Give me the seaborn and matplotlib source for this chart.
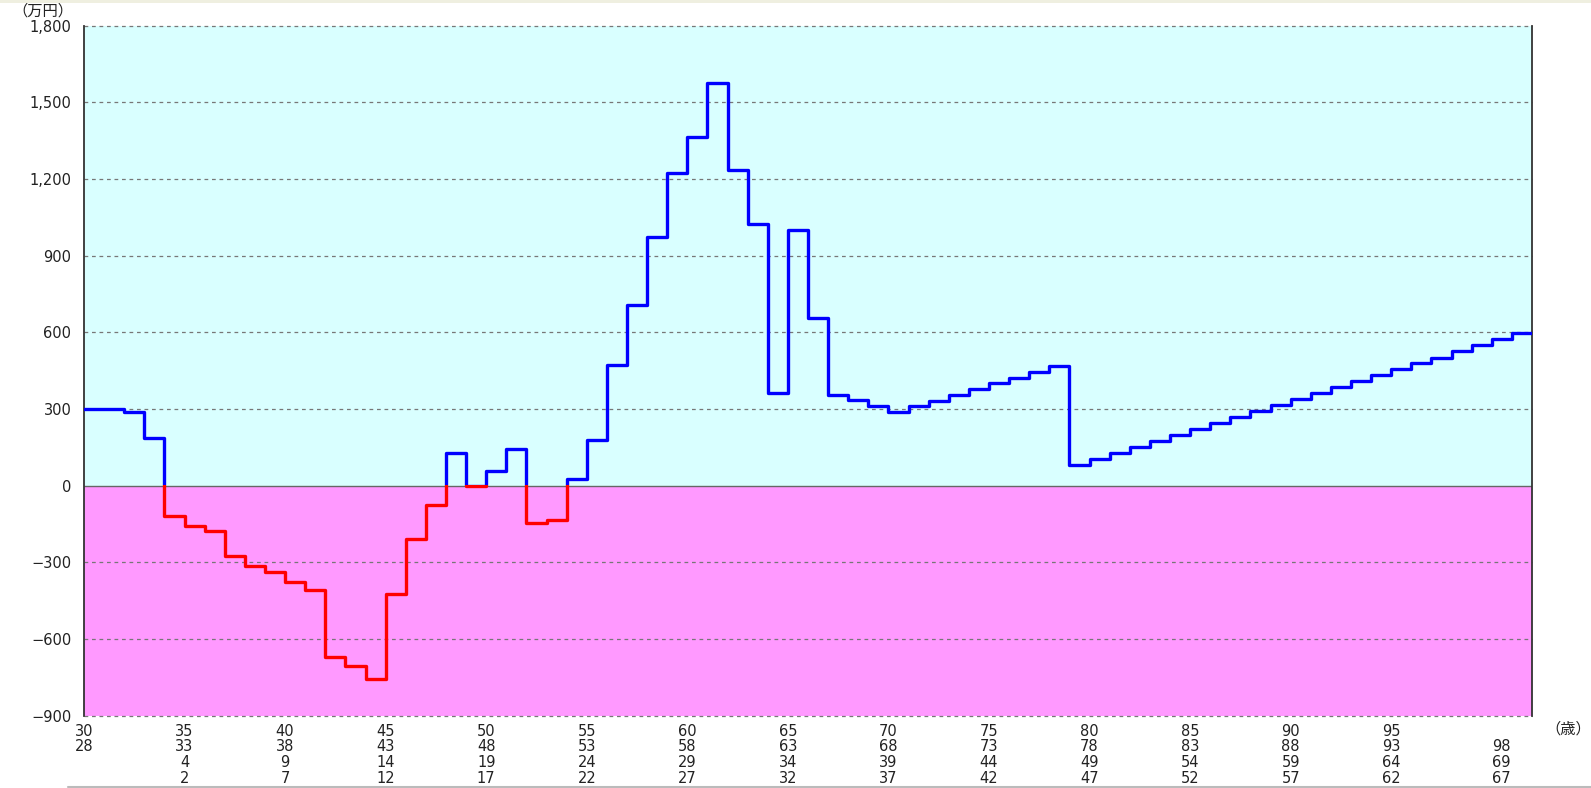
import pandas as pd
import matplotlib.pyplot as plt
import seaborn as sns
from matplotlib.patches import Rectangle
from matplotlib.lines import Line2D

# ----------------------------------------------------------
# Data (cash balance by age, 万円)
# ----------------------------------------------------------

ages = list(range(30, 102))
balance = [300, 300, 289, 185, -119, -159, -179, -276, -313, -340,
           -376, -407, -671, -707, -759, -426, -211, -78, 128, -2,
           57, 143, -148, -136, 24, 177, 472, 706, 972, 1225,
           1363, 1575, 1234, 1024, 361, 1000, 656, 354, 335, 311,
           288, 310, 331, 354, 377, 400, 420, 444, 469, 79,
           103, 126, 150, 173, 198, 221, 245, 268, 292, 314,
           339, 361, 386, 409, 431, 455, 478, 501, 527, 550,
           574, 597]

y_ticks = [1800, 1500, 1200, 900, 600, 300, 0, -300, -600, -900]

tick_ages = [30, 35, 40, 45, 50, 55, 60, 65, 70, 75, 80, 85, 90, 95, 100]
row_self = ["30", "35", "40", "45", "50", "55", "60", "65", "70", "75",
            "80", "85", "90", "95", ""]
row_spouse = ["28", "33", "38", "43", "48", "53", "58", "63", "68", "73",
              "78", "83", "88", "93", "98"]
row_child1 = ["", "4", "9", "14", "19", "24", "29", "34", "39", "44",
              "49", "54", "59", "64", "69"]
row_child2 = ["", "2", "7", "12", "17", "22", "27", "32", "37", "42",
              "47", "52", "57", "62", "67"]

# extend the last step to the right edge
df = pd.DataFrame({"age": ages + [ages[-1] + 1],
                   "balance": balance + [balance[-1]]})

# ----------------------------------------------------------
# Style
# ----------------------------------------------------------

sns.set_style("white")
plt.rcParams["font.family"] = ["DejaVu Sans", "Noto Sans CJK JP"]
plt.rcParams["axes.unicode_minus"] = True
cjk = ["Noto Sans CJK JP", "DejaVu Sans"]

fig = plt.figure(figsize=(15.91, 7.88), dpi=100)
ax = fig.add_axes([84 / 1591, 1 - 715.5 / 788,
                   (1532 - 84) / 1591, (715.5 - 25.7) / 788])

x0, x1 = ages[0], ages[-1] + 1
ax.set_xlim(x0, x1)
ax.set_ylim(min(y_ticks), max(y_ticks))

# background bands
ax.axhspan(0, max(y_ticks), color="#D9FFFF", zorder=0, lw=0)
ax.axhspan(min(y_ticks), 0, color="#FF99FF", zorder=0, lw=0)

# grid lines
for v in y_ticks:
    if v == 0:
        ax.axhline(v, color="#666666", lw=1.0, zorder=1)
    else:
        ax.axhline(v, color="#777777", lw=0.9, ls=(0, (3, 3)),
                   zorder=1, clip_on=False)

# ----------------------------------------------------------
# Step line: red below zero, blue above
# ----------------------------------------------------------

sns.lineplot(data=df, x="age", y="balance", drawstyle="steps-post",
             color="#FF0000", lw=2.4, ax=ax, zorder=3)
red = ax.lines[-1]
red.set_clip_path(Rectangle((x0, min(y_ticks)), x1 - x0, -min(y_ticks) + 3,
                            transform=ax.transData))

sns.lineplot(data=df, x="age", y="balance", drawstyle="steps-post",
             color="#0000FF", lw=2.4, ax=ax, zorder=4)
blue = ax.lines[-1]
blue.set_clip_path(Rectangle((x0, 3), x1 - x0, max(y_ticks),
                             transform=ax.transData))

# ----------------------------------------------------------
# Axes, ticks
# ----------------------------------------------------------

ax.set_yticks(y_ticks)
ax.set_yticklabels([f"{v:,}".replace("-", "\u2212") for v in y_ticks])

labels = []
for a, b, c, d in zip(row_self, row_spouse, row_child1, row_child2):
    labels.append("\n".join(t if t else " " for t in (a, b, c, d)))
ax.set_xticks(tick_ages)
ax.set_xticklabels(labels, linespacing=1.05)
ax.get_xticklabels()[-1].set_horizontalalignment("left")

ax.tick_params(axis="both", length=0, labelsize=10.5, labelcolor="#222222")
ax.tick_params(axis="y", pad=9)
ax.tick_params(axis="x", pad=6)
ax.set_xlabel("")
ax.set_ylabel("")

for side in ["top", "bottom"]:
    ax.spines[side].set_visible(False)
for side in ["left", "right"]:
    ax.spines[side].set_color("#333333")
    ax.spines[side].set_linewidth(1.3)

fig.text(12 / 1591, 1 - 11 / 788, "（万円）", fontsize=11, family=cjk,
         color="#222222", va="center", ha="left")
fig.text(1545 / 1591, 1 - 729 / 788, "（歳）", fontsize=11, family=cjk,
         color="#222222", va="center", ha="left")

# page decorations
fig.patches.append(Rectangle((0, 1 - 3 / 788), 1, 3 / 788,
                             transform=fig.transFigure,
                             color="#EFEFE0", lw=0))
fig.add_artist(Line2D([68 / 1591, 1], [1 - 786.5 / 788] * 2,
                      color="#BBBBBB", lw=1.5))

fig.savefig("out.png", dpi=100)
